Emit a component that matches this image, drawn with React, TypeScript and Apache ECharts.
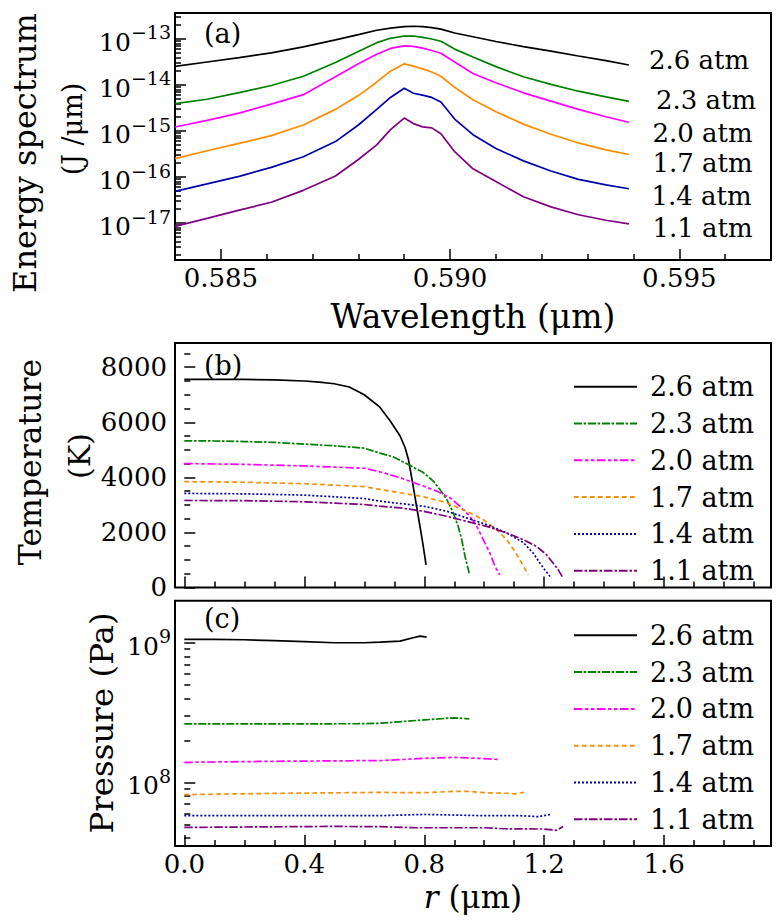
import React, { useEffect, useRef } from 'react';
import * as echarts from 'echarts';

const FONT = '"DejaVu Serif", serif';

// ---------- legend / styling keys ----------
const pressures = ['2.6 atm', '2.3 atm', '2.0 atm', '1.7 atm', '1.4 atm', '1.1 atm'];
const colors = ['#000000', '#008000', '#ff00ff', '#ff8c00', '#0000a8', '#800080'];
const dashes: any[] = ['solid', [8, 1.6, 2.6, 1.8], [8.5, 2.5, 3.5, 2.5, 3.5, 2.5], [4.7, 3.3], [2, 2], [8.5, 2, 2.5, 2]];

// ---------- panel (a): energy spectrum vs wavelength (µm) ----------
const wavelength = [0.5840, 0.5847, 0.5854, 0.5861, 0.5868, 0.5875, 0.5880, 0.5884, 0.5887, 0.5890, 0.5892,
  0.5894, 0.5896, 0.5898, 0.5901, 0.5905, 0.5910, 0.5916, 0.5922, 0.5928, 0.5934, 0.5939];
const spec26 = [2.55e-14, 3.16e-14, 3.94e-14, 5.01e-14, 6.76e-14, 9.55e-14, 1.24e-13, 1.55e-13, 1.72e-13, 1.86e-13, 1.89e-13,
  1.86e-13, 1.76e-13, 1.64e-13, 1.35e-13, 1.12e-13, 8.81e-14, 6.84e-14, 5.43e-14, 4.27e-14, 3.39e-14, 2.72e-14];
const spec23 = [3.93e-15, 4.90e-15, 6.84e-15, 9.77e-15, 1.55e-14, 3.09e-14, 5.37e-14, 8.32e-14, 1.035e-13, 1.16e-13, 1.16e-13,
  1.08e-13, 1.00e-13, 8.91e-14, 6.03e-14, 4.07e-14, 2.51e-14, 1.51e-14, 1.035e-14, 7.33e-15, 5.50e-15, 4.42e-15];
const spec20 = [1.22e-15, 1.70e-15, 2.45e-15, 3.85e-15, 6.17e-15, 1.51e-14, 2.88e-14, 4.68e-14, 6.24e-14, 7.08e-14, 6.92e-14,
  6.31e-14, 5.62e-14, 4.90e-14, 3.16e-14, 1.78e-14, 1.12e-14, 6.76e-15, 4.47e-15, 2.95e-15, 2.04e-15, 1.55e-15];
const spec17 = [2.50e-16, 3.72e-16, 5.37e-16, 7.94e-16, 1.35e-15, 2.95e-15, 5.89e-15, 1.15e-14, 2.00e-14, 2.88e-14, 2.57e-14,
  2.24e-14, 1.91e-14, 1.55e-14, 8.91e-15, 4.79e-15, 2.63e-15, 1.41e-15, 8.51e-16, 5.50e-16, 3.89e-16, 3.09e-16];
const spec14 = [4.89e-17, 7.08e-17, 1.035e-16, 1.62e-16, 2.75e-16, 5.89e-16, 1.35e-15, 2.95e-15, 5.37e-15, 8.51e-15, 6.61e-15,
  6.03e-15, 5.37e-15, 4.27e-15, 1.82e-15, 8.32e-16, 4.17e-16, 2.24e-16, 1.35e-16, 8.91e-17, 6.76e-17, 5.56e-17];
const spec11 = [8.47e-18, 1.26e-17, 1.91e-17, 2.82e-17, 5.13e-17, 1.05e-16, 2.40e-16, 5.01e-16, 1.07e-15, 1.91e-15, 1.45e-15,
  1.23e-15, 1.17e-15, 8.71e-16, 3.55e-16, 1.51e-16, 7.94e-17, 3.72e-17, 2.24e-17, 1.51e-17, 1.15e-17, 9.55e-18];
const spectra = [spec26, spec23, spec20, spec17, spec14, spec11];
const waveMajor = [0.585, 0.590, 0.595];
const waveMinor = [0.586, 0.587, 0.588, 0.589, 0.591, 0.592, 0.593, 0.594, 0.596];
const specExpMajor = [-17, -16, -15, -14, -13];

// ---------- panel (b): temperature (K) vs r (µm) ----------
const tR26 = [0, 0.1, 0.2, 0.3, 0.4, 0.45, 0.5, 0.55, 0.6, 0.652, 0.686, 0.719, 0.736, 0.747, 0.763, 0.78, 0.795, 0.806];
const t26 = [7557, 7557, 7557, 7540, 7500, 7460, 7400, 7280, 7000, 6547, 6058, 5510, 5082, 4658, 3682, 2585, 1609, 819];
const tR23 = [0, 0.1, 0.2, 0.3, 0.4, 0.5, 0.6, 0.652, 0.697, 0.752, 0.797, 0.83, 0.852, 0.875, 0.897, 0.913, 0.925, 0.936, 0.95];
const t23 = [5327, 5320, 5300, 5268, 5206, 5144, 5060, 4880, 4742, 4438, 4171, 3864, 3561, 3195, 2709, 2219, 1733, 1122, 515];
const tR20 = [0, 0.2, 0.4, 0.6, 0.652, 0.719, 0.797, 0.841, 0.886, 0.919, 0.952, 0.975, 0.997, 1.019, 1.036, 1.052];
const t20 = [4500, 4470, 4413, 4330, 4200, 3989, 3682, 3499, 3257, 2950, 2585, 2219, 1733, 1247, 757, 453];
const tR17 = [0, 0.2, 0.4, 0.6, 0.652, 0.719, 0.797, 0.875, 0.941, 0.997, 1.041, 1.075, 1.102, 1.125, 1.147];
const t17 = [3842, 3820, 3769, 3660, 3560, 3440, 3294, 3075, 2768, 2464, 2099, 1733, 1305, 881, 453];
const tR14 = [0, 0.2, 0.4, 0.6, 0.652, 0.719, 0.797, 0.875, 0.941, 1.008, 1.075, 1.13, 1.163, 1.186, 1.202, 1.224];
const t14 = [3415, 3400, 3353, 3230, 3133, 3049, 2950, 2768, 2526, 2281, 1978, 1634, 1247, 881, 636, 333];
const tR11 = [0, 0.2, 0.4, 0.6, 0.652, 0.719, 0.797, 0.875, 0.941, 1.008, 1.075, 1.13, 1.175, 1.208, 1.23, 1.247, 1.263];
const t11 = [3159, 3150, 3111, 3013, 2950, 2892, 2768, 2585, 2402, 2219, 1978, 1733, 1488, 1185, 881, 636, 333];
const tempR = [tR26, tR23, tR20, tR17, tR14, tR11];
const temps = [t26, t23, t20, t17, t14, t11];
const tempMajor = [0, 2000, 4000, 6000, 8000];
const tempMinor = [500, 1000, 1500, 2500, 3000, 3500, 4500, 5000, 5500, 6500, 7000, 7500, 8500];

// ---------- panel (c): pressure (Pa) vs r (µm) ----------
const pR26 = [0, 0.1, 0.2, 0.3, 0.4, 0.5, 0.6, 0.652, 0.719, 0.763, 0.786, 0.808];
const p26 = [1.056e9, 1.056e9, 1.05e9, 1.035e9, 1.02e9, 1.0e9, 1.0e9, 1.01e9, 1.027e9, 1.086e9, 1.115e9, 1.097e9];
const pR23 = [0, 0.3, 0.58, 0.652, 0.8, 0.9, 0.95];
const p23 = [2.62e8, 2.62e8, 2.63e8, 2.65e8, 2.80e8, 2.90e8, 2.85e8];
const pR20 = [0, 0.3, 0.6, 0.652, 0.8, 0.9, 1.0, 1.05];
const p20 = [1.39e8, 1.415e8, 1.43e8, 1.43e8, 1.486e8, 1.51e8, 1.48e8, 1.456e8];
const pR17 = [0, 0.3, 0.65, 0.8, 0.9, 0.95, 1.0, 1.08, 1.1, 1.132];
const p17 = [8.16e7, 8.34e7, 8.47e7, 8.43e7, 8.62e7, 8.62e7, 8.43e7, 8.34e7, 8.26e7, 8.47e7];
const pR14 = [0, 0.65, 0.8, 1.0, 1.12, 1.18, 1.221];
const p14 = [5.77e7, 5.77e7, 5.89e7, 5.77e7, 5.77e7, 5.68e7, 5.89e7];
const pR11 = [0, 0.5, 0.65, 0.775, 1.0, 1.07, 1.2, 1.24, 1.263];
const p11 = [4.755e7, 4.835e7, 4.81e7, 4.73e7, 4.73e7, 4.65e7, 4.63e7, 4.53e7, 4.835e7];
const presR = [pR26, pR23, pR20, pR17, pR14, pR11];
const press = [p26, p23, p20, p17, p14, p11];
const presExpMajor = [8, 9];

const rMajor = [0, 0.4, 0.8, 1.2, 1.6];
const rMinor = [0.1, 0.2, 0.3, 0.5, 0.6, 0.7, 0.9, 1.0, 1.1, 1.3, 1.4, 1.5, 1.7, 1.8, 1.9];

// log10 minor tick positions inside [lo, hi]
function logMinor(lo: number, hi: number) {
  const out: number[] = [];
  for (let n = Math.floor(lo) - 1; n <= Math.ceil(hi); n++) {
    for (let k = 2; k <= 9; k++) {
      const v = n + Math.log10(k);
      if (v > lo && v < hi) out.push(v);
    }
  }
  return out;
}

const black = '#000';
const tickStyle = { color: black, width: 1.5 };

function axisBase(gridIndex: number, min: number, max: number, position: string) {
  return {
    type: 'value', gridIndex, min, max, position,
    axisLine: { show: false },
    splitLine: { show: false },
  };
}

function majorAxis(gridIndex: number, min: number, max: number, position: string, ticks: number[], label: any, extra: any = {}) {
  return {
    ...axisBase(gridIndex, min, max, position),
    axisTick: { show: true, inside: true, length: 11, lineStyle: tickStyle, customValues: ticks },
    axisLabel: label ? { customValues: ticks, color: black, fontFamily: FONT, ...label } : { show: false },
    ...extra,
  };
}

function minorAxis(gridIndex: number, min: number, max: number, position: string, ticks: number[]) {
  return {
    ...axisBase(gridIndex, min, max, position),
    axisTick: { show: true, inside: true, length: 6, lineStyle: tickStyle, customValues: ticks },
    axisLabel: { show: false },
  };
}

const A_YMIN = -17.804, A_YMAX = -12.435;
const C_YMIN = Math.log10(3.5e7), C_YMAX = Math.log10(2e9);
const R_MIN = -0.031, R_MAX = 1.956;

const supRich = {
  b: { fontSize: 25, fontFamily: FONT, color: black, lineHeight: 32, verticalAlign: 'bottom' },
  s: { fontSize: 19, fontFamily: FONT, color: black, lineHeight: 19, verticalAlign: 'top' },
};

const titleStyle = { fontSize: 33, fontFamily: FONT, color: black };

function buildOption() {
  const series: any[] = [];
  pressures.forEach((name, i) => {
    series.push({
      name, type: 'line', xAxisIndex: 2, yAxisIndex: 2, symbol: 'none', smooth: false,
      lineStyle: { color: colors[i], width: 1.7, type: dashes[i] }, itemStyle: { color: colors[i] },
      data: tempR[i].map((r, j) => [r, temps[i][j]]),
    });
  });
  pressures.forEach((name, i) => {
    series.push({
      name, type: 'line', xAxisIndex: 4, yAxisIndex: 4, symbol: 'none',
      lineStyle: { color: colors[i], width: 1.7, type: dashes[i] }, itemStyle: { color: colors[i] },
      data: presR[i].map((r, j) => [r, Math.log10(press[i][j])]),
    });
  });
  pressures.forEach((name, i) => {
    series.push({
      name: name + ' (a)', type: 'line', xAxisIndex: 0, yAxisIndex: 0, symbol: 'none',
      lineStyle: { color: colors[i], width: 1.7, type: 'solid' }, itemStyle: { color: colors[i] },
      data: wavelength.map((w, j) => [w, Math.log10(spectra[i][j])]),
    });
  });

  const legendBase = {
    data: pressures, orient: 'vertical', left: 568, itemWidth: 63, itemHeight: 14, itemGap: 0,
    selectedMode: false,
    itemStyle: { color: 'rgba(0,0,0,0)', borderColor: 'rgba(0,0,0,0)', borderWidth: 0, opacity: 0 },
    textStyle: { fontFamily: FONT, fontSize: 27, color: black, lineHeight: 36.8, padding: [0, 0, 0, 8] },
  };

  const annot = [
    { t: '2.6 atm', x: 649, y: 59.5 },
    { t: '2.3 atm', x: 656, y: 99.5 },
    { t: '2.0 atm', x: 652.5, y: 132.5 },
    { t: '1.7 atm', x: 652.5, y: 163 },
    { t: '1.4 atm', x: 651.5, y: 196 },
    { t: '1.1 atm', x: 652.5, y: 228 },
  ];

  const txt = (text: string, x: number, y: number, fontSize: number, align = 'left', rotation = 0, lineHeight?: number) => ({
    type: 'text', x, y, rotation, silent: true,
    style: {
      text, fontFamily: FONT, fontSize, fill: black, lineHeight: lineHeight ?? fontSize,
      textAlign: align, align, textVerticalAlign: 'middle', verticalAlign: 'middle',
    },
  });

  return {
    animation: false,
    backgroundColor: '#fff',
    textStyle: { fontFamily: FONT },
    grid: [
      { left: 175, top: 13, width: 596, height: 247, show: true, borderColor: black, borderWidth: 2, backgroundColor: 'transparent' },
      { left: 175, top: 343, width: 596, height: 244.4, show: true, borderColor: black, borderWidth: 2, backgroundColor: 'transparent' },
      { left: 175, top: 600.7, width: 596, height: 245.3, show: true, borderColor: black, borderWidth: 2, backgroundColor: 'transparent' },
    ],
    xAxis: [
      majorAxis(0, 0.584, 0.597, 'bottom', waveMajor,
        { fontSize: 26, lineHeight: 26, margin: 17.5, verticalAlign: 'middle', formatter: (v: number) => v.toFixed(3) },
        { name: 'Wavelength (μm)', nameLocation: 'middle', nameGap: 56, nameTextStyle: { ...titleStyle, lineHeight: 32, verticalAlign: 'middle' } }),
      minorAxis(0, 0.584, 0.597, 'bottom', waveMinor),
      majorAxis(1, R_MIN, R_MAX, 'bottom', rMajor, null),
      minorAxis(1, R_MIN, R_MAX, 'bottom', rMinor),
      majorAxis(2, R_MIN, R_MAX, 'bottom', rMajor,
        { fontSize: 26, lineHeight: 24, margin: 18, verticalAlign: 'middle', formatter: (v: number) => v.toFixed(1) },
        {
          name: '{i|r} (μm)', nameLocation: 'middle', nameGap: 51,
          nameTextStyle: { fontSize: 31, fontFamily: FONT, color: black, lineHeight: 30, verticalAlign: 'middle', rich: { i: { fontSize: 31, fontFamily: FONT, color: black, lineHeight: 30, fontStyle: 'italic' } } },
        }),
      minorAxis(2, R_MIN, R_MAX, 'bottom', rMinor),
    ],
    yAxis: [
      majorAxis(0, A_YMIN, A_YMAX, 'left', specExpMajor,
        { margin: 4, formatter: (v: number) => `{b|10}{s|−${Math.abs(Math.round(v))}}`, rich: supRich }),
      minorAxis(0, A_YMIN, A_YMAX, 'left', logMinor(A_YMIN, A_YMAX)),
      majorAxis(1, 0, 8880, 'left', tempMajor, { fontSize: 26, lineHeight: 26, margin: 8, formatter: (v: number) => String(Math.round(v)) }),
      minorAxis(1, 0, 8880, 'left', tempMinor),
      majorAxis(2, C_YMIN, C_YMAX, 'left', presExpMajor,
        { margin: 4, formatter: (v: number) => `{b|10}{s|${Math.round(v)}}`, rich: supRich }),
      minorAxis(2, C_YMIN, C_YMAX, 'left', logMinor(C_YMIN, C_YMAX)),
    ],
    legend: [
      { ...legendBase, top: 381.7 - 18.4 },
      { ...legendBase, top: 630.3 - 18.4 },
    ],
    graphic: [
      txt('(a)', 204, 33, 27),
      txt('(b)', 204, 365, 27),
      txt('(c)', 204, 618.5, 27),
      ...annot.map((a) => txt(a.t, a.x, a.y, 26, 'left', 0, 26)),
      txt('Energy spectrum', 25, 153, 32, 'center', Math.PI / 2, 32),
      txt('(J /μm)', 72, 129, 27, 'center', Math.PI / 2, 27),
      txt('Temperature', 30, 462, 31.5, 'center', Math.PI / 2, 32),
      txt('(K)', 79, 456, 30, 'center', Math.PI / 2, 30),
      txt('Pressure (Pa)', 102, 723, 32.5, 'center', Math.PI / 2, 32),
    ],
    series,
  };
}

export default function App() {
  const ref = useRef<HTMLDivElement>(null);
  useEffect(() => {
    if (!ref.current) return;
    const chart = echarts.init(ref.current, null, { renderer: 'svg' });
    chart.setOption(buildOption() as any);
    return () => chart.dispose();
  }, []);
  return (
    <div
      ref={ref}
      style={{ position: 'absolute', left: 0, top: 0, width: 780, height: 921, background: '#fff' }}
    />
  );
}
